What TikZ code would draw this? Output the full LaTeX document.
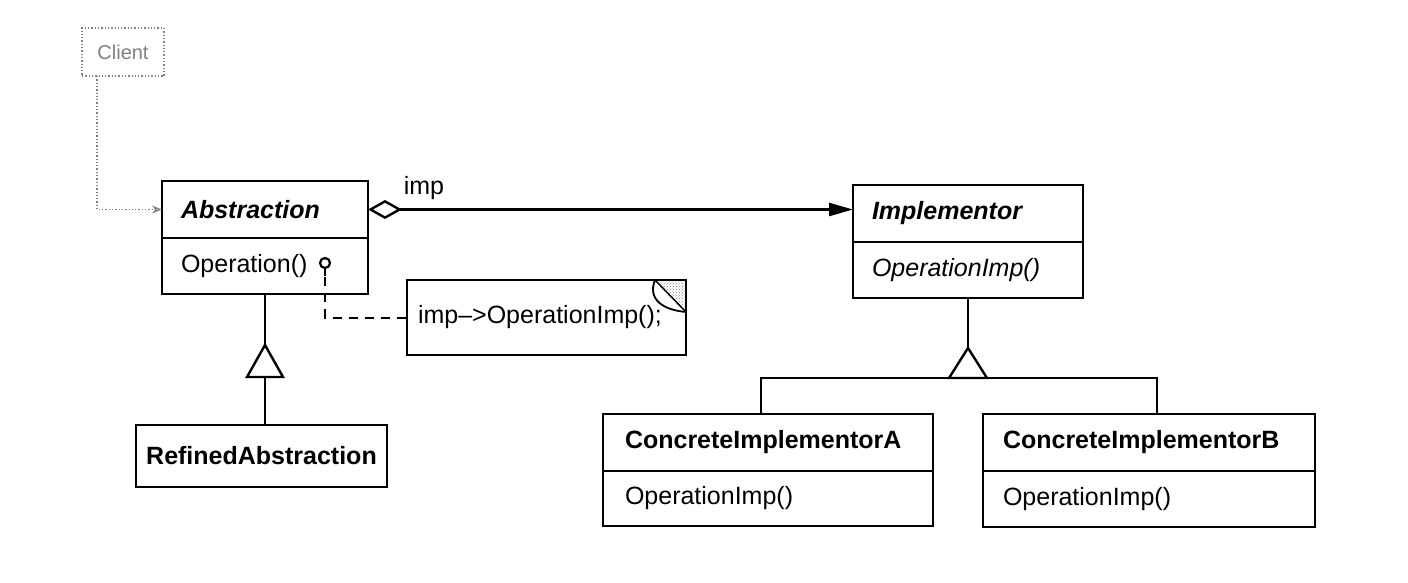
\documentclass[tikz,border=0pt]{standalone}
\usepackage{fontspec}
\setmainfont{Liberation Sans}
\usetikzlibrary{arrows.meta,calc,patterns}

\tikzset{
  classbox/.style={draw, anchor=north west, inner xsep=19pt, inner ysep=0pt, outer sep=0pt, align=left},
  genarrow/.style={fill=white},
  dashlink/.style={dash pattern=on 9pt off 7pt, line width=2pt},
}

\begin{document}
\begin{tikzpicture}[x=1pt, y=-1pt, line width=2.4pt,
    every node/.style={font=\fontsize{25}{30}\selectfont}]
  \useasboundingbox[fill=white] (0,0) rectangle (1408,582);

  % client
  \node[draw=gray, dotted, line width=1.3pt, anchor=north west, minimum width=82pt, minimum height=48pt,
        outer sep=0pt, text=gray, font=\fontsize{20}{24}\selectfont] (client) at (82,28) {Client};

  % abstraction side
  \node[classbox, text width=168pt, minimum height=57pt] (abs) at (162,181) {\bfseries\itshape Abstraction};
  \node[classbox, text width=168pt, minimum height=56pt] (absop) at (abs.south west) {Operation()};
  \node[classbox, inner xsep=0pt, text width=251pt, align=center, minimum height=62pt] (refined) at (136,425) {\bfseries RefinedAbstraction};

  % implementor side
  \node[classbox, text width=192pt, minimum height=57pt] (impl) at (853,185) {\bfseries\itshape Implementor};
  \node[classbox, text width=192pt, minimum height=56pt] (implop) at (impl.south west) {\itshape OperationImp()};
  \node[classbox, inner xsep=22pt, text width=286pt, minimum height=57pt] (cia) at (603,414) {\bfseries ConcreteImplementorA};
  \node[classbox, inner xsep=22pt, text width=286pt, minimum height=55pt] (ciaop) at (cia.south west) {OperationImp()};
  \node[classbox, inner xsep=20pt, text width=292pt, minimum height=57pt] (cib) at (983,414) {\bfseries ConcreteImplementorB};
  \node[classbox, inner xsep=20pt, text width=292pt, minimum height=56pt] (cibop) at (cib.south west) {OperationImp()};

  % note
  \node[anchor=north west, minimum width=279pt, minimum height=75pt, inner xsep=11pt, inner ysep=0pt,
        outer sep=0pt, text width=257pt, align=left] (note) at (407,280) {imp\textendash>OperationImp();};
  \coordinate (fa) at ($(note.north east)+(-31,0)$);
  \coordinate (fb) at ($(note.north east)+(0,32)$);
  \fill[pattern=crosshatch dots, pattern color=gray] (fa) -- (note.north east) -- (fb) -- cycle;
  \draw (note.north west) -- (note.north east) -- (note.south east) -- (note.south west) -- cycle;
  \draw[line width=1.5pt] (fa) -- (fb);
  \draw[line width=1.8pt] (fa) .. controls ($(fa)+(-8,20)$) and ($(fb)+(-22,-2)$) .. (fb);

  % client uses abstraction
  \draw[gray, dotted, line width=1.3pt, -{Stealth[open, length=10pt, width=8pt]}]
    ([xshift=-26pt]client.south) |- (abs.west);

  % imp aggregation
  \draw[{Diamond[open, length=34pt, width=19pt]}-{Triangle[length=24pt, width=13pt]}]
    (abs.east) -- (abs.east -| impl.west);
  \node (implbl) at (424,188) {imp};

  % note link
  \coordinate (pin) at (325,263);
  \draw[line width=2.2pt] (pin) circle[radius=5pt];
  \draw[line width=2.2pt] ([yshift=-5pt]pin) -- ++(0,8);
  \draw[dashlink] ([yshift=-14pt]pin) |- (note.west);

  % generalization abstraction
  \draw (absop.south) -- ++(0,51) coordinate (absgen);
  \draw[genarrow] (absgen) -- ++(18,32) -- ++(-36,0) -- cycle;
  \draw ($(absgen)+(0,32)$) -- (absgen |- refined.north);

  % generalization implementor
  \draw (implop.south) -- ++(0,50) coordinate (implgen);
  \draw[genarrow] (implgen) -- ++(19,30) -- ++(-38,0) -- cycle;
  \coordinate (barA) at (761,378);
  \coordinate (barB) at (1157,378);
  \draw (barA |- cia.north) -- (barA) -- (barB) -- (barB |- cib.north);
\end{tikzpicture}
\end{document}
